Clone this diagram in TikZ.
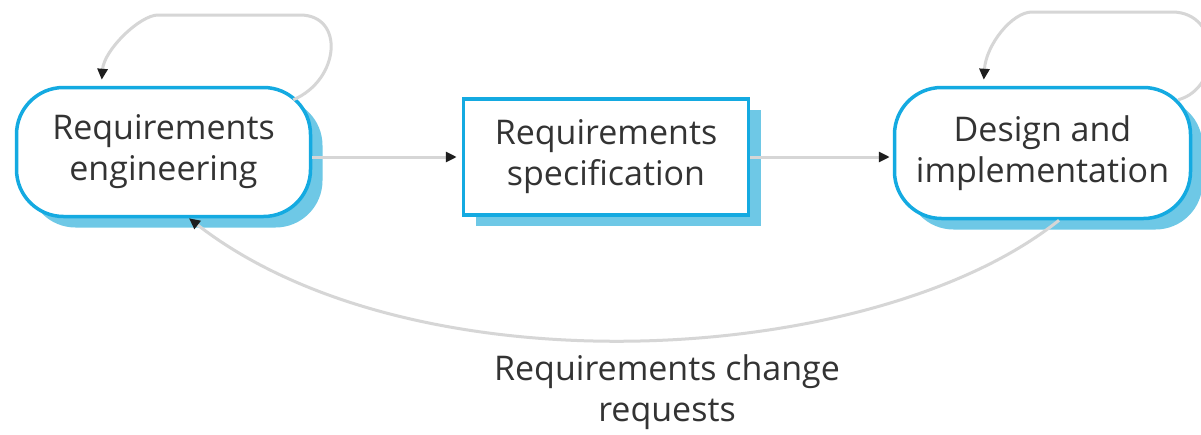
\documentclass[tikz,border=0pt]{standalone}
\usepackage{fontspec}
\setmainfont{Open Sans}
\usetikzlibrary{arrows.meta,shadows,calc}
\definecolor{nodeblue}{HTML}{14AAE1}
\definecolor{shadowblue}{HTML}{6EC8E6}
\definecolor{linegray}{HTML}{D6D6D6}
\definecolor{tipdark}{HTML}{1E1E1E}
\definecolor{textgray}{HTML}{333333}
\begin{document}
\begin{tikzpicture}[x=1pt,y=-1pt,
  every node/.style={font=\fontsize{34}{41}\selectfont, text=textgray, align=center, inner sep=0pt},
  procbox/.style={draw=nodeblue, line width=3.5pt, fill=white,
    drop shadow={shadow xshift=12pt, shadow yshift=-11pt, fill=shadowblue, opacity=1}},
  roundbox/.style={procbox, rounded corners=47pt},
  flow/.style={draw=linegray, line width=3pt, -{Triangle[length=11pt,width=10pt,color=tipdark]}}
]
\path[use as bounding box, fill=white] (0,0) rectangle (1201,434);

\node[roundbox, minimum width=294pt, minimum height=129pt] (RE) at (163.5,152) {Requirements\\engineering};
\node[procbox, minimum width=285pt, minimum height=116pt] (RS) at (606,157) {Requirements\\specification};
\node[roundbox, minimum width=296pt, minimum height=131pt] (DI) at (1042.5,153) {Design and\\implementation};

\draw[flow, shorten >=5pt] (RE.east |- RS.west) -- (RS.west);
\draw[flow, shorten >=3pt] (RS.east) -- (RS.east -| DI.west);

\draw[flow] ([shift={(-19,14)}]RE.north east) .. controls (340,80) and (345,15) .. (300,15)
  -- (158,15) .. controls (140,15) and (104,50) .. ([shift={(87,-6)}]RE.north west);
\draw[flow] ([shift={(-14,14)}]DI.north east) .. controls (1222,88) and (1222,12) .. (1172,12)
  -- (1032,12) .. controls (1012,12) and (986,45) .. ([shift={(91,-6)}]DI.north west);

\draw[flow] ([xshift=16.5pt]DI.south) .. controls (876,367) and (415,394) .. ([xshift=25.5pt]RE.south);

\node (CR) at (667,392) {Requirements change\\requests};
\end{tikzpicture}
\end{document}
